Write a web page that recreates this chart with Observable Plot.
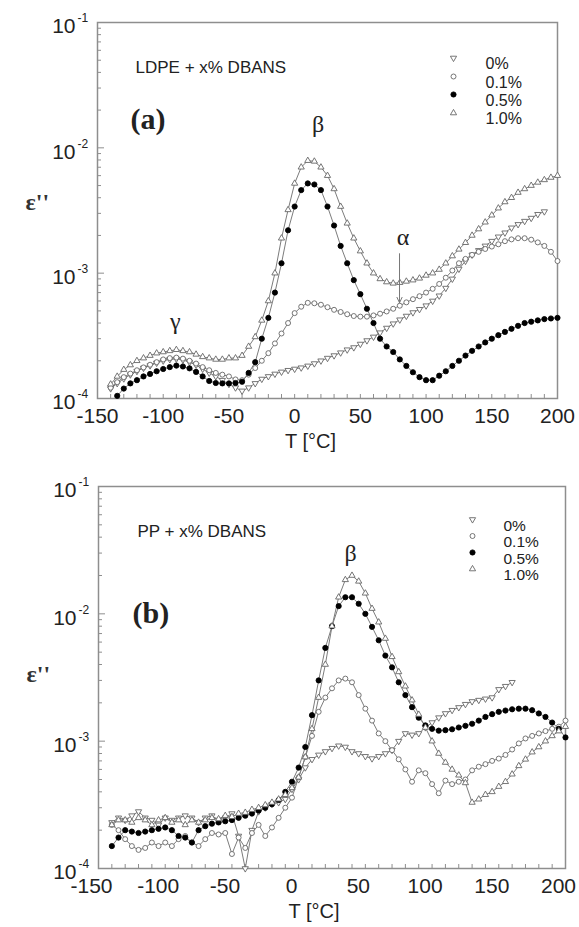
<!DOCTYPE html>
<html><head><meta charset="utf-8">
<script src="https://cdn.jsdelivr.net/npm/d3@7"></script>
<script src="https://cdn.jsdelivr.net/npm/@observablehq/plot@0.6"></script>
<style>
body{margin:0;background:#fff}
#chart{width:579px}
#chart svg{display:block}
</style>
</head><body><div id="chart"></div>
<script>
// ---------- DATA ----------
const seriesLabels = ["0%", "0.1%", "0.5%", "1.0%"];
const temps = [-140,-135,-130,-125,-120,-115,-110,-105,-100,-95,-90,-85,-80,-75,-70,-65,-60,-55,-50,-45,-40,-35,-30,-25,-20,-15,-10,-5,0,5,10,15,20,25,30,35,40,45,50,55,60,65,70,75,80,85,90,95,100,105,110,115,120,125,130,135,140,145,150,155,160,165,170,175,180,185,190,195,200];

// (a) LDPE + x% DBANS
const ldpe0 = [1.20e-4,1.32e-4,1.44e-4,1.55e-4,1.65e-4,1.75e-4,1.83e-4,1.92e-4,2.00e-4,2.05e-4,
  2.07e-4,2.03e-4,1.95e-4,1.85e-4,1.72e-4,1.60e-4,1.50e-4,1.40e-4,1.30e-4,1.22e-4,
  1.15e-4,1.22e-4,1.32e-4,1.43e-4,1.50e-4,1.57e-4,1.63e-4,1.68e-4,1.72e-4,1.76e-4,
  1.82e-4,1.90e-4,2.00e-4,2.10e-4,2.20e-4,2.32e-4,2.45e-4,2.55e-4,2.72e-4,2.90e-4,
  3.10e-4,3.35e-4,3.65e-4,3.95e-4,4.25e-4,4.55e-4,4.85e-4,5.15e-4,5.50e-4,6.00e-4,
  6.60e-4,7.60e-4,9.00e-4,1.08e-3,1.25e-3,1.40e-3,1.52e-3,1.65e-3,1.80e-3,1.95e-3,
  2.10e-3,2.30e-3,2.45e-3,2.60e-3,2.75e-3,2.95e-3,3.10e-3,null,null];
const ldpe01 = [1.22e-4,1.35e-4,1.48e-4,1.58e-4,1.68e-4,1.77e-4,1.86e-4,1.95e-4,2.05e-4,2.10e-4,
  2.12e-4,2.08e-4,2.00e-4,1.90e-4,1.78e-4,1.68e-4,1.60e-4,1.55e-4,1.50e-4,1.42e-4,
  1.40e-4,1.55e-4,1.75e-4,2.00e-4,2.30e-4,2.75e-4,3.30e-4,4.00e-4,4.80e-4,5.40e-4,
  5.80e-4,5.75e-4,5.60e-4,5.35e-4,5.10e-4,4.90e-4,4.70e-4,4.55e-4,4.50e-4,4.50e-4,
  4.60e-4,4.75e-4,4.95e-4,5.20e-4,5.50e-4,5.85e-4,6.20e-4,6.55e-4,7.00e-4,7.50e-4,
  8.20e-4,9.20e-4,1.05e-3,1.20e-3,1.30e-3,1.40e-3,1.48e-3,1.56e-3,1.63e-3,1.70e-3,
  1.80e-3,1.86e-3,1.90e-3,1.90e-3,1.85e-3,1.76e-3,1.65e-3,1.48e-3,1.25e-3];
const ldpe05 = [null,1.05e-4,1.20e-4,1.32e-4,1.40e-4,1.50e-4,1.57e-4,1.65e-4,1.72e-4,1.78e-4,
  1.83e-4,1.80e-4,1.74e-4,1.63e-4,1.50e-4,1.38e-4,1.33e-4,1.32e-4,1.32e-4,1.33e-4,
  1.36e-4,1.60e-4,1.95e-4,3.00e-4,4.40e-4,7.00e-4,1.20e-3,2.20e-3,3.40e-3,4.60e-3,
  5.20e-3,5.10e-3,4.60e-3,3.40e-3,2.40e-3,1.65e-3,1.20e-3,8.80e-4,6.80e-4,5.20e-4,
  4.00e-4,3.00e-4,2.60e-4,2.35e-4,2.05e-4,1.82e-4,1.62e-4,1.48e-4,1.40e-4,1.40e-4,
  1.52e-4,1.65e-4,1.82e-4,2.00e-4,2.20e-4,2.40e-4,2.60e-4,2.80e-4,3.00e-4,3.20e-4,
  3.40e-4,3.60e-4,3.80e-4,4.00e-4,4.10e-4,4.20e-4,4.30e-4,4.35e-4,4.40e-4];
const ldpe10 = [1.30e-4,1.50e-4,1.70e-4,1.85e-4,2.00e-4,2.10e-4,2.20e-4,2.30e-4,2.35e-4,2.40e-4,
  2.45e-4,2.40e-4,2.35e-4,2.25e-4,2.15e-4,2.10e-4,2.05e-4,2.05e-4,2.10e-4,2.10e-4,
  2.20e-4,2.60e-4,3.10e-4,4.20e-4,6.00e-4,1.00e-3,1.90e-3,3.20e-3,5.20e-3,7.00e-3,
  7.90e-3,7.80e-3,7.00e-3,6.00e-3,4.70e-3,3.40e-3,2.50e-3,1.90e-3,1.50e-3,1.20e-3,
  1.00e-3,9.00e-4,8.50e-4,8.30e-4,8.40e-4,8.60e-4,8.80e-4,9.10e-4,9.60e-4,1.00e-3,
  1.07e-3,1.20e-3,1.37e-3,1.55e-3,1.75e-3,2.00e-3,2.25e-3,2.55e-3,2.90e-3,3.30e-3,
  3.70e-3,4.00e-3,4.40e-3,4.70e-3,5.00e-3,5.30e-3,5.55e-3,5.80e-3,6.00e-3];

// (b) PP + x% DBANS
const pp0 = [2.3e-4,2.5e-4,2.4e-4,2.6e-4,2.8e-4,2.5e-4,2.4e-4,2.2e-4,2.5e-4,2.4e-4,
  2.5e-4,2.6e-4,2.5e-4,2.3e-4,2.5e-4,2.6e-4,2.4e-4,2.5e-4,2.7e-4,1.8e-4,
  1.0e-4,2.0e-4,2.8e-4,3.0e-4,3.2e-4,3.3e-4,3.5e-4,4.2e-4,5.0e-4,6.2e-4,
  7.2e-4,7.8e-4,8.3e-4,8.8e-4,9.2e-4,9.0e-4,8.3e-4,8.0e-4,7.6e-4,7.3e-4,
  7.6e-4,8.0e-4,8.5e-4,1.0e-3,1.15e-3,1.12e-3,1.15e-3,1.28e-3,1.40e-3,1.53e-3,
  1.65e-3,1.75e-3,1.84e-3,1.95e-3,2.05e-3,2.10e-3,2.15e-3,2.20e-3,2.55e-3,2.70e-3,
  2.90e-3,null,null,null,null,null,null,null,null];
const pp01 = [2.2e-4,2.0e-4,1.7e-4,1.5e-4,1.4e-4,1.45e-4,1.6e-4,1.5e-4,1.6e-4,1.5e-4,
  1.7e-4,1.8e-4,1.6e-4,1.5e-4,1.7e-4,1.9e-4,1.85e-4,1.9e-4,1.3e-4,1.75e-4,
  1.45e-4,1.9e-4,2.2e-4,1.8e-4,2.1e-4,2.5e-4,3.0e-4,3.6e-4,5.2e-4,7.5e-4,
  1.1e-3,1.7e-3,2.2e-3,2.6e-3,3.0e-3,3.1e-3,2.9e-3,2.3e-3,1.8e-3,1.45e-3,
  1.15e-3,1.0e-3,8.5e-4,7.2e-4,6.0e-4,4.8e-4,5.9e-4,5.6e-4,4.6e-4,3.9e-4,
  4.9e-4,4.6e-4,4.8e-4,5.0e-4,5.9e-4,6.3e-4,6.6e-4,7.0e-4,7.3e-4,7.8e-4,
  8.6e-4,9.6e-4,1.05e-3,1.10e-3,1.15e-3,1.20e-3,1.25e-3,1.30e-3,1.45e-3];
const pp05 = [1.5e-4,1.75e-4,2.0e-4,1.95e-4,1.9e-4,1.95e-4,2.0e-4,2.05e-4,2.1e-4,2.0e-4,
  1.8e-4,1.75e-4,1.6e-4,2.0e-4,2.15e-4,2.25e-4,2.3e-4,2.35e-4,2.4e-4,2.5e-4,
  2.6e-4,2.7e-4,2.85e-4,3.0e-4,3.2e-4,3.45e-4,4.0e-4,4.8e-4,6.2e-4,9.0e-4,
  1.6e-3,3.0e-3,5.4e-3,8.0e-3,1.15e-2,1.35e-2,1.35e-2,1.20e-2,1.00e-2,7.9e-3,
  6.2e-3,4.7e-3,3.8e-3,2.9e-3,2.3e-3,1.85e-3,1.53e-3,1.33e-3,1.25e-3,1.21e-3,
  1.22e-3,1.24e-3,1.28e-3,1.32e-3,1.37e-3,1.45e-3,1.55e-3,1.63e-3,1.70e-3,1.74e-3,
  1.78e-3,1.80e-3,1.80e-3,1.75e-3,1.65e-3,1.55e-3,1.40e-3,1.25e-3,1.07e-3];
const pp10 = [2.2e-4,2.4e-4,2.4e-4,2.3e-4,2.5e-4,2.4e-4,2.2e-4,2.4e-4,2.5e-4,2.3e-4,
  2.4e-4,2.2e-4,2.4e-4,2.3e-4,2.4e-4,2.5e-4,2.45e-4,2.6e-4,2.55e-4,2.7e-4,
  2.75e-4,2.9e-4,3.0e-4,3.15e-4,3.3e-4,3.5e-4,3.8e-4,4.3e-4,5.2e-4,7.5e-4,
  1.25e-3,2.2e-3,4.0e-3,8.0e-3,1.35e-2,1.85e-2,2.0e-2,1.8e-2,1.45e-2,1.10e-2,
  8.6e-3,6.4e-3,4.6e-3,3.5e-3,2.7e-3,2.1e-3,1.62e-3,1.28e-3,1.0e-3,8.0e-4,
  6.8e-4,6.0e-4,5.4e-4,4.7e-4,3.3e-4,3.5e-4,3.8e-4,4.0e-4,4.4e-4,4.8e-4,
  5.5e-4,6.4e-4,7.2e-4,8.2e-4,9.0e-4,1.0e-3,1.1e-3,1.2e-3,1.3e-3];

// ticks
const xMajorTicks = [-150,-100,-50,0,50,100,150,200];
const xMinorTicks = [-140,-130,-120,-110,-100,-90,-80,-70,-60,-50,-40,-30,-20,-10,0,10,20,30,40,50,60,70,80,90,100,110,120,130,140,150,160,170,180,190];
const yMajorTicks = [1e-1,1e-2,1e-3,1e-4];
const yExponents = ["-1","-2","-3","-4"];
const yMinorTicks = [2e-4,3e-4,4e-4,5e-4,6e-4,7e-4,8e-4,9e-4,2e-3,3e-3,4e-3,5e-3,6e-3,7e-3,8e-3,9e-3,2e-2,3e-2,4e-2,5e-2,6e-2,7e-2,8e-2,9e-2];

// annotations (label, T, value)
const annotA = [["β",17.9,0.0153],["γ",-90.8,4.14e-4],["α",82.4,1.95e-3]];
const arrowA = [{T1:79.8,v1:1.43e-3,T2:79.8,v2:5.8e-4}];
const annotB = [["β",38.9,0.0298]];

// ---------- STYLE ----------
const sans = "'Liberation Sans', Arial, Helvetica, sans-serif";
const serif = "'Liberation Serif', 'Times New Roman', serif";
const gray = "#7c7c7c";
const symStyles = [
  {symbol:"triangle", rotate:180, fill:"white", stroke:"#666", r:2.3},
  {symbol:"circle", rotate:0, fill:"white", stroke:"#666", r:2.5},
  {symbol:"circle", rotate:0, fill:"black", stroke:"black", r:2.6},
  {symbol:"triangle", rotate:0, fill:"white", stroke:"#666", r:2.3}
];

function toRows(vals, label){
  return temps.map((t,i)=>({T:t, v:vals[i], s:label})).filter(d=>d.v!=null);
}

function panel(cfg){
  const marks = [
    Plot.frame({stroke:"#8e8e8e", strokeWidth:1.5}),
    Plot.axisX(xMinorTicks, {anchor:"bottom", tickSize:-4, tickFormat:()=>"", stroke:"#8e8e8e", label:null}),
    Plot.axisX(xMajorTicks, {anchor:"bottom", tickSize:0, tickPadding:10, dx:cfg.xLabelDx, tickFormat:d=>String(d), fontSize:21, fill:"#222", label:null}),
    Plot.axisY(yMinorTicks, {anchor:"left", tickSize:-4, tickFormat:()=>"", stroke:"#8e8e8e", label:null}),
    Plot.axisY(yMajorTicks, {anchor:"left", tickSize:-7, tickPadding:0, tickFormat:()=>"", stroke:"#8e8e8e", label:null}),
    Plot.axisY(yMajorTicks, {anchor:"left", tickSize:0, tickPadding:22, dy:4, tickFormat:()=> "10", fontSize:21, fill:"#222", label:null}),
    Plot.text(yMajorTicks, {y:d=>d, frameAnchor:"left", text:(d,i)=>yExponents[i], dx:-20, dy:-4, textAnchor:"start", fontSize:12, fill:"#222", fontFamily:sans}),
    Plot.text(["T [°C]"], {frameAnchor:"bottom", dx:cfg.titleDx, dy:49, fontSize:20, fill:"#222", fontFamily:sans}),
    Plot.text(["ε''"], {frameAnchor:"left", dx:-72, dy:cfg.yLabelDy, fontSize:24, fontWeight:"bold", fill:"#333", fontFamily:serif}),
    Plot.text([cfg.title], {frameAnchor:"top-left", dx:cfg.titlePos[0], dy:cfg.titlePos[1], textAnchor:"start", fontSize:17, fill:"#222", fontFamily:sans}),
    Plot.text([cfg.tag], {frameAnchor:"top-left", dx:cfg.tagPos[0], dy:cfg.tagPos[1], textAnchor:"start", fontSize:30, fontWeight:"bold", fill:"#222", fontFamily:serif})
  ];
  cfg.series.forEach((vals,k)=>{
    marks.push(Plot.line(toRows(vals, seriesLabels[k]), {x:"T", y:"v", stroke:gray, strokeWidth:1}));
  });
  cfg.series.forEach((vals,k)=>{
    const st = symStyles[k];
    marks.push(Plot.dot(toRows(vals, seriesLabels[k]), {x:"T", y:"v", symbol:st.symbol, rotate:st.rotate, r:st.r, fill:st.fill, stroke:st.stroke, strokeWidth:0.9}));
  });
  // legend
  seriesLabels.forEach((lab,k)=>{
    const st = symStyles[k];
    marks.push(Plot.dot([lab], {x:null, y:null, frameAnchor:"top-left", dx:cfg.legSym, dy:cfg.legRows[k], symbol:st.symbol, rotate:st.rotate, r:st.r, fill:st.fill, stroke:st.stroke, strokeWidth:0.9}));
    marks.push(Plot.text([lab], {frameAnchor:"top-left", dx:cfg.legText, dy:cfg.legRows[k], textAnchor:"start", fontSize:cfg.legFont, fill:"#222", fontFamily:sans}));
  });
  // greek annotations
  marks.push(Plot.text(cfg.annot, {x:d=>d[1], y:d=>d[2], text:d=>d[0], fontSize:24, fill:"#222", fontFamily:serif}));
  if (cfg.arrows) marks.push(Plot.arrow(cfg.arrows, {x1:"T1", y1:"v1", x2:"T2", y2:"v2", stroke:"#777", strokeWidth:1, headLength:9, headAngle:50}));

  return Plot.plot({
    width:579, height:cfg.height,
    marginTop:cfg.m[0], marginRight:cfg.m[1], marginBottom:cfg.m[2], marginLeft:cfg.m[3],
    x:{domain:[-150,200]},
    y:{type:"log", domain:[1e-4,1e-1]},
    style:{fontFamily:sans, background:"white", overflow:"visible"},
    marks
  });
}

const chart = document.getElementById("chart");
chart.append(panel({
  height:463, m:[22,22,65,97],
  series:[ldpe0, ldpe01, ldpe05, ldpe10],
  title:"LDPE + x% DBANS", titlePos:[38,38], tag:"(a)", tagPos:[33,85],
  legSym:356, legText:388, legRows:[35.5,54,72,90.5], legFont:16,
  annot:annotA, arrows:arrowA, xLabelDx:0, titleDx:-17, yLabelDy:-8
}));
chart.append(panel({
  height:464, m:[23,14,59,98],
  series:[pp0, pp01, pp05, pp10],
  title:"PP + x% DBANS", titlePos:[39,38], tag:"(b)", tagPos:[34,115],
  legSym:374, legText:405, legRows:[33,49.5,66,82.5], legFont:15.5,
  annot:annotB, arrows:null, xLabelDx:-7, titleDx:-18, yLabelDy:-3
}));
</script>
</body></html>
